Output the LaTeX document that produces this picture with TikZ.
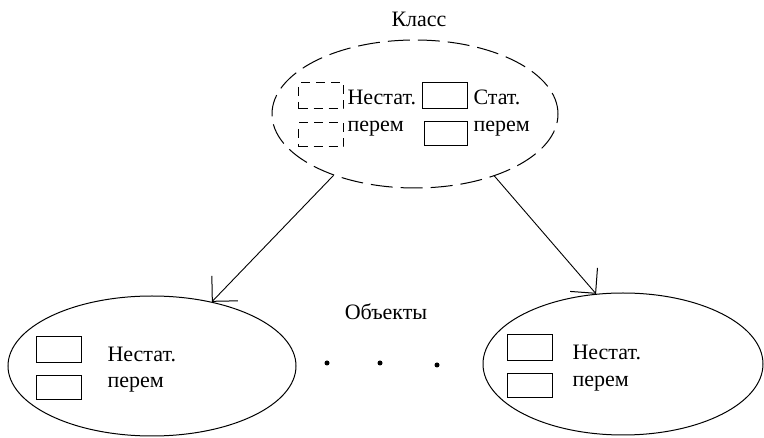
\documentclass[tikz,border=0pt]{standalone}
\usepackage{fontspec}
\setmainfont{Liberation Serif}
\usetikzlibrary{shapes.geometric, arrows.meta, positioning}

\begin{document}
\begin{tikzpicture}[x=1pt, y=-1pt, line width=1pt,
  box/.style={draw, rectangle, minimum width=45pt, minimum height=26pt, inner sep=0pt},
  dbox/.style={box, dash pattern=on 9pt off 6pt},
  lbl/.style={inner sep=0pt, anchor=base west, font=\fontsize{22}{26}\selectfont},
  arr/.style={-{Straight Barb[length=18pt, width=36pt, line width=1pt]}, line width=0.9pt}]
\useasboundingbox (0,0) rectangle (764,438);
% class ellipse
\node[lbl, anchor=base] (title) at (419,27) {Класс};
\node[draw, ellipse, dash pattern=on 22pt off 8pt, minimum width=286pt, minimum height=148pt] (cls) at (415,114) {};
\node[dbox] (cb1) at (321,96) {};
\node[dbox, minimum height=24pt] (cb2) at (321,135) {};
\node[box] (cb3) at (445,96) {};
\node[box, minimum width=43pt, minimum height=24pt] (cb4) at (446,134) {};
\node[lbl] (cl1) at (347,105) {Нестат.};
\node[lbl] (cl2) at (347,132) {перем};
\node[lbl] (cl3) at (473,105) {Стат.};
\node[lbl] (cl4) at (473,132) {перем};
% objects
\node[lbl, anchor=base] (objs) at (386,320) {Объекты};
\node[draw, ellipse, minimum width=288pt, minimum height=140pt] (objL) at (152,366) {};
\node[box] (lb1) at (59,350) {};
\node[box, minimum height=24pt] (lb2) at (59,388) {};
\node[lbl] (ll1) at (107,362) {Нестат.};
\node[lbl] (ll2) at (107,388) {перем};
\node[draw, ellipse, minimum width=280pt, minimum height=142pt] (objR) at (623,364) {};
\node[box] (rb1) at (530,348) {};
\node[box, minimum height=24pt] (rb2) at (530,386) {};
\node[lbl] (rl1) at (572,360) {Нестат.};
\node[lbl] (rl2) at (572,387) {перем};
% dots between the objects
\foreach \px/\py [count=\i] in {327/363, 380/363, 437/365}
  \node[circle, fill, inner sep=0pt, minimum size=5pt] (dot\i) at (\px,\py) {};
% arrows
\draw[arr] (cls.217) -- (objL.47);
\draw[arr] (cls.322) -- (objR.111);
\end{tikzpicture}
\end{document}
